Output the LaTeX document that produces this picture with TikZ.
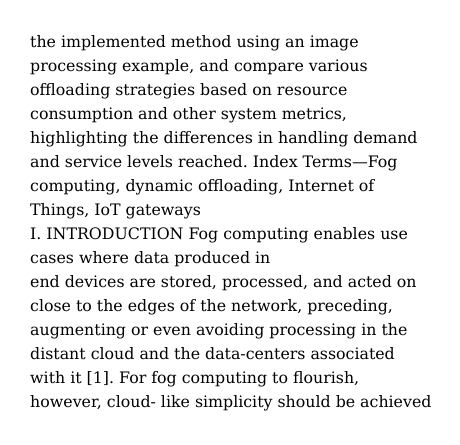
\documentclass[tikz,border=0pt]{standalone}
\usepackage{fontspec}
\setmainfont{DejaVu Serif}
\frenchspacing
\tikzset{txtline/.style={anchor=base west, inner sep=0pt, font=\fontsize{15.8}{24}\selectfont}}
\begin{document}
\begin{tikzpicture}[x=1pt,y=1pt]
\useasboundingbox[fill=white] (0,0) rectangle (460,-444);
\node[txtline] (l1) at (30,-47.5) {the implemented method using an image};
\node[txtline] (l2) at (30,-71.5) {processing example, and compare various};
\node[txtline] (l3) at (30,-95.5) {offloading strategies based on resource};
\node[txtline] (l4) at (30,-119.5) {consumption and other system metrics,};
\node[txtline] (l5) at (30,-143.5) {highlighting the differences in handling demand};
\node[txtline] (l6) at (30,-167.5) {and service levels reached. Index Terms—Fog};
\node[txtline] (l7) at (30,-191.5) {computing, dynamic offloading, Internet of};
\node[txtline] (l8) at (30,-215.5) {Things, IoT gateways};
\node[txtline] (l9) at (30,-239.5) {I. INTRODUCTION Fog computing enables use};
\node[txtline] (l10) at (30,-263.5) {cases where data produced in};
\node[txtline] (l11) at (30,-287.5) {end devices are stored, processed, and acted on};
\node[txtline] (l12) at (30,-311.5) {close to the edges of the network, preceding,};
\node[txtline] (l13) at (30,-335.5) {augmenting or even avoiding processing in the};
\node[txtline] (l14) at (30,-359.5) {distant cloud and the data-centers associated};
\node[txtline] (l15) at (30,-383.5) {with it [1]. For fog computing to flourish,};
\node[txtline] (l16) at (30,-407.5) {however, cloud- like simplicity should be achieved};
\end{tikzpicture}
\end{document}
